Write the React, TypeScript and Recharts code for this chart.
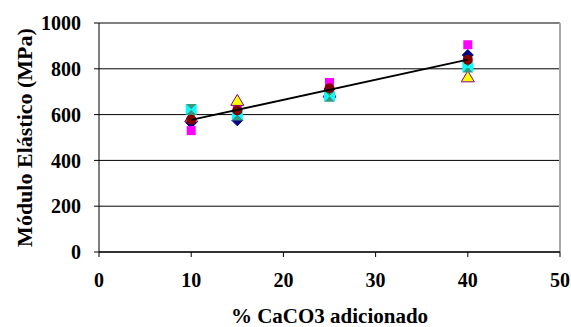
import React from "react";
import { ScatterChart, Scatter, XAxis, YAxis, CartesianGrid, ReferenceLine, Label } from "recharts";

const xValues = [10, 15, 25, 40];
const diamondVals = [565, 575, 712, 860];
const squareVals = [530, 635, 740, 905];
const triangleVals = [590, 662, 698, 765];
const xSquareVals = [622, 598, 680, 808];
const circleVals = [578, 618, 715, 840];
const trendX = [10, 40];
const trendVals = [577, 840];
const xTicks = [0, 10, 20, 30, 40, 50];
const yTicks = [0, 200, 400, 600, 800, 1000];

const toPts = (vals: number[], xs: number[] = xValues) => vals.map((y, i) => ({ x: xs[i], y }));

const FONT = "Liberation Serif";

const Diamond = (p: any) => {
  const { cx, cy } = p;
  const r = 5.5;
  return <polygon points={`${cx},${cy - r} ${cx + r},${cy} ${cx},${cy + r} ${cx - r},${cy}`} fill="#000080" stroke="#000080" />;
};
const Square = (p: any) => {
  const { cx, cy } = p;
  const r = 4.5;
  return <rect x={cx - r} y={cy - r} width={2 * r} height={2 * r} fill="#FF00FF" />;
};
const Tri = (p: any) => {
  const { cx, cy } = p;
  return <polygon points={`${cx},${cy - 6} ${cx + 6.5},${cy + 5} ${cx - 6.5},${cy + 5}`} fill="#FFFF00" stroke="#800080" strokeWidth={1} />;
};
const XSquare = (p: any) => {
  const { cx, cy } = p;
  const r = 5.5;
  return (
    <g>
      <polygon points={`${cx - r},${cy - r} ${cx + r},${cy - r} ${cx},${cy} ${cx + r},${cy + r} ${cx - r},${cy + r} ${cx},${cy}`} fill="#339980" />
      <polygon points={`${cx - r},${cy - r} ${cx},${cy} ${cx - r},${cy + r}`} fill="#00FFFF" />
      <polygon points={`${cx + r},${cy - r} ${cx},${cy} ${cx + r},${cy + r}`} fill="#00FFFF" />
    </g>
  );
};
const Circ = (p: any) => {
  const { cx, cy } = p;
  return <circle cx={cx} cy={cy} r={5} fill="#800000" />;
};
const Nothing = () => null;

const tickStyle = { fill: "#000", fontFamily: FONT, fontWeight: 700, fontSize: 20 };
const titleStyle = { fill: "#000", fontFamily: FONT, fontWeight: 700, fontSize: 21 };

export default function App() {
  return (
    <div style={{ position: "absolute", left: 0, top: 0, background: "#fff", fontFamily: FONT }}>
      <ScatterChart width={571} height={327} margin={{ top: 23, right: 11, bottom: 0, left: 0 }} style={{ fontFamily: FONT }}>
        <CartesianGrid horizontal vertical={false} stroke="#000" strokeOpacity={1} />
        <ReferenceLine x={50} stroke="#aaaaaa" strokeWidth={2} />
        <XAxis
          type="number"
          dataKey="x"
          domain={[0, 50]}
          ticks={xTicks}
          height={75}
          stroke="#333"
          strokeWidth={2}
          tickSize={5}
          tickLine={{ stroke: "#000", strokeWidth: 1 }}
          tick={tickStyle}
          tickMargin={16}
        >
          <Label value="% CaCO3 adicionado" position="insideBottom" offset={4} style={titleStyle} />
        </XAxis>
        <YAxis
          type="number"
          dataKey="y"
          domain={[0, 1000]}
          ticks={yTicks}
          width={99}
          stroke="#000"
          tickSize={5}
          tick={tickStyle}
          tickMargin={13}
        >
          <Label value="Módulo Elástico (MPa)" angle={-90} position="insideLeft" offset={24} style={{ ...titleStyle, fontSize: 22, textAnchor: "middle" }} />
        </YAxis>
        <Scatter data={toPts(diamondVals)} shape={Diamond} isAnimationActive={false} />
        <Scatter data={toPts(squareVals)} shape={Square} isAnimationActive={false} />
        <Scatter data={toPts(triangleVals)} shape={Tri} isAnimationActive={false} />
        <Scatter data={toPts(xSquareVals)} shape={XSquare} isAnimationActive={false} />
        <Scatter data={toPts(circleVals)} shape={Circ} isAnimationActive={false} />
        <Scatter data={toPts(trendVals, trendX)} shape={Nothing} line={{ stroke: "#000", strokeWidth: 2 }} isAnimationActive={false} />
      </ScatterChart>
    </div>
  );
}
